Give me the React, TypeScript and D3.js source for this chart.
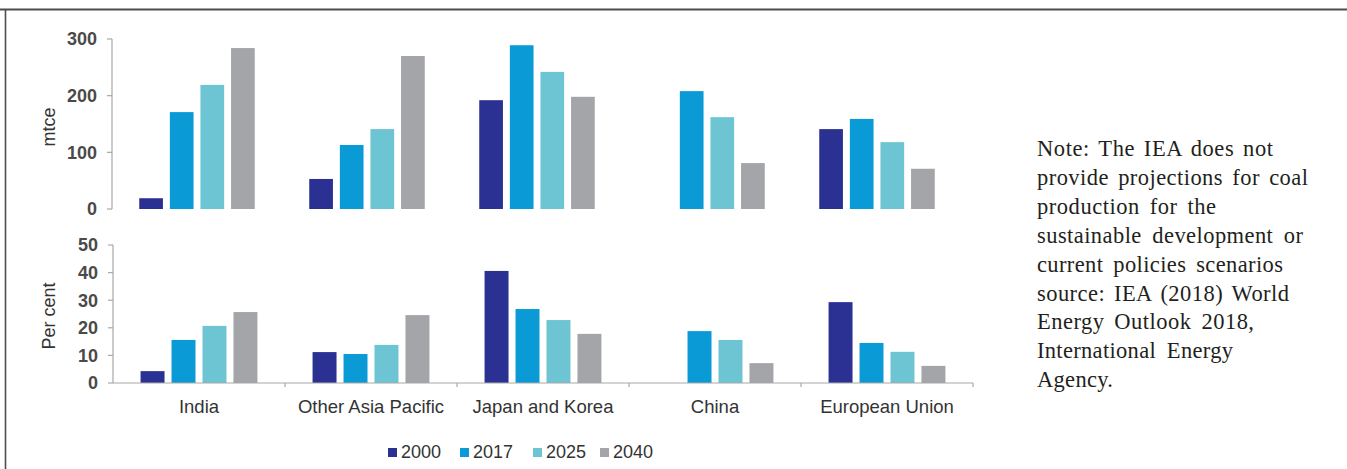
import React, { useEffect, useRef } from "react";
import * as d3 from "d3";

const categories = ["India", "Other Asia Pacific", "Japan and Korea", "China", "European Union"];
const years = ["2000", "2017", "2025", "2040"];

const production2000: (number | null)[] = [19, 53, 192, null, 141];
const production2017 = [171, 113, 289, 208, 159];
const production2025 = [219, 141, 242, 162, 118];
const production2040 = [284, 270, 198, 81, 71];

const share2000: (number | null)[] = [4.3, 11.2, 40.6, null, 29.3];
const share2017 = [15.6, 10.5, 26.8, 18.8, 14.5];
const share2025 = [20.7, 13.8, 22.8, 15.6, 11.3];
const share2040 = [25.7, 24.6, 17.8, 7.2, 6.2];

const productionTicks = [0, 100, 200, 300];
const shareTicks = [0, 10, 20, 30, 40, 50];

const noteLines = [
  "Note: The IEA does not",
  "provide projections for coal",
  "production for the",
  "sustainable development or",
  "current policies scenarios",
  "source: IEA (2018) World",
  "Energy Outlook 2018,",
  "International Energy",
  "Agency.",
];

// layout (not data): target rendered width of each note line
const NOTE_WIDTHS = [236, 271, 179, 266, 246, 252, 217, 196, 76];
const COLORS = ["#2b3192", "#0a9ad6", "#6dc4d2", "#a3a5a9"];
const SANS = "'Liberation Sans', Arial, sans-serif";
const SERIF = "'Liberation Serif', 'Times New Roman', serif";

const productionSeries = [production2000, production2017, production2025, production2040];
const shareSeries = [share2000, share2017, share2025, share2040];

function Panel({ series, yDomain, yRange, xRange, axisX, ticks, label, labelY, baseline }: any) {
  const x = d3.scaleBand<string>().domain(categories).range(xRange).paddingInner(0).paddingOuter(0);
  const xi = d3
    .scaleBand<string>()
    .domain(years)
    .range([0, x.bandwidth()])
    .paddingInner(0.226)
    .paddingOuter(0.89);
  const y = d3.scaleLinear().domain(yDomain).range(yRange);
  return (
    <g>
      {series.map((vals: (number | null)[], si: number) =>
        vals.map((v, ci) =>
          v == null ? null : (
            <rect
              key={`${si}-${ci}`}
              x={(x(categories[ci]) as number) + (xi(years[si]) as number)}
              y={y(v)}
              width={xi.bandwidth()}
              height={y(0) - y(v)}
              fill={COLORS[si]}
            />
          )
        )
      )}
      <line x1={axisX} x2={axisX} y1={y(yDomain[1])} y2={y(0)} stroke="#a8a8a8" strokeWidth={1.2} />
      {ticks.map((t: number) => (
        <g key={t}>
          <line x1={axisX - 5} x2={axisX} y1={y(t)} y2={y(t)} stroke="#a8a8a8" strokeWidth={1.2} />
          <text
            x={axisX - 15}
            y={y(t)}
            dy="0.36em"
            textAnchor="end"
            fontFamily={SANS}
            fontSize={18}
            fill="#4a4a4a"
            fontWeight="bold"
          >
            {t}
          </text>
        </g>
      ))}
      <text
        transform={`translate(49,${labelY}) rotate(-90)`}
        textAnchor="middle"
        dy="0.35em"
        fontFamily={SANS}
        fontSize={18}
        fill="#333"
      >
        {label}
      </text>
      {baseline && (
        <g>
          <line x1={axisX} x2={xRange[1]} y1={y(0)} y2={y(0)} stroke="#a8a8a8" strokeWidth={1.2} />
          {categories.map((c) => (
            <line
              key={c}
              x1={(x(c) as number) + x.bandwidth()}
              x2={(x(c) as number) + x.bandwidth()}
              y1={y(0)}
              y2={y(0) + 4}
              stroke="#a8a8a8"
              strokeWidth={1.2}
            />
          ))}
          {categories.map((c) => (
            <text
              key={c}
              x={(x(c) as number) + x.bandwidth() / 2}
              y={413}
              textAnchor="middle"
              fontFamily={SANS}
              fontSize={18.5}
              fill="#333"
            >
              {c}
            </text>
          ))}
        </g>
      )}
    </g>
  );
}

export default function App() {
  const legendX = [388, 460, 533, 600];
  const noteRef = useRef<SVGGElement>(null);

  useEffect(() => {
    if (!noteRef.current) return;
    d3.select(noteRef.current)
      .selectAll<SVGTextElement, unknown>("text")
      .each(function (_d, i) {
        const el = this as SVGTextElement;
        el.style.wordSpacing = "0px";
        el.style.letterSpacing = "0px";
        const natural = el.getComputedTextLength();
        const line = noteLines[i];
        const spaces = (line.match(/ /g) || []).length;
        const extra = NOTE_WIDTHS[i] - natural;
        if (extra <= 0) return;
        const ls = (extra * (spaces > 0 ? 0.55 : 1)) / Math.max(1, line.length - 1);
        el.style.letterSpacing = `${ls}px`;
        if (spaces > 0) {
          const rest = extra - ls * (line.length - 1);
          el.style.wordSpacing = `${rest / spaces}px`;
        }
      });
  }, []);

  return (
    <svg
      width={1347}
      height={469}
      style={{ position: "absolute", left: 0, top: 0, display: "block", background: "#fff" }}
    >
      <rect x={0} y={0} width={1347} height={469} fill="#fff" />
      <line x1={0} x2={1347} y1={9.5} y2={9.5} stroke="#4d4d4d" strokeWidth={2} />
      <line x1={5.5} x2={5.5} y1={9} y2={469} stroke="#4d4d4d" strokeWidth={1.6} />

      <Panel
        series={productionSeries}
        yDomain={[0, 300]}
        yRange={[209, 39]}
        xRange={[112, 962]}
        axisX={112}
        ticks={productionTicks}
        label="mtce"
        labelY={127}
        baseline={false}
      />
      <Panel
        series={shareSeries}
        yDomain={[0, 50]}
        yRange={[383, 245]}
        xRange={[113, 973]}
        axisX={113}
        ticks={shareTicks}
        label="Per cent"
        labelY={316}
        baseline={true}
      />

      {years.map((yr, i) => (
        <g key={yr}>
          <rect x={legendX[i]} y={448} width={9} height={9} fill={COLORS[i]} />
          <text x={legendX[i] + 13} y={457.5} fontFamily={SANS} fontSize={18} fill="#333">
            {yr}
          </text>
        </g>
      ))}

      <g ref={noteRef}>
        {noteLines.map((ln, i) => (
          <text key={i} x={1037} y={156 + i * 28.9} fontFamily={SERIF} fontSize={22.5} fill="#231f20">
            {ln}
          </text>
        ))}
      </g>
    </svg>
  );
}
